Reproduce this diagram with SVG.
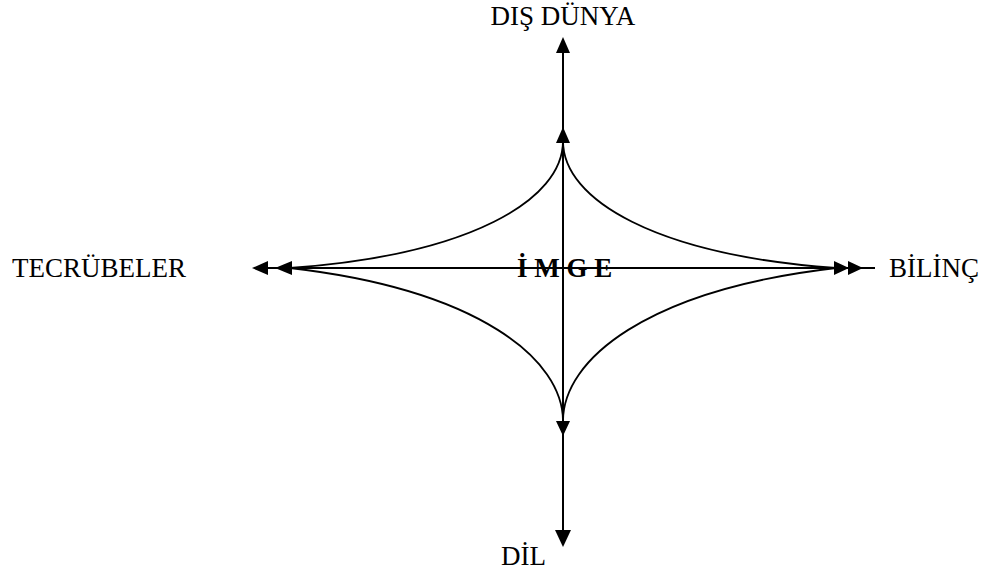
<svg xmlns="http://www.w3.org/2000/svg" width="987" height="571" viewBox="0 0 987 571">
<style>
.ln{fill:none;stroke:#000;stroke-width:2}
.cv{fill:none;stroke:#000;stroke-width:1.8}
.ah{fill:#000;stroke:none}
.lbl{font-family:"Liberation Serif","Times New Roman",serif;font-size:27px;fill:#000}
.b{font-weight:bold}
</style>
<rect width="987" height="571" fill="#fff"/>
<g id="connectors">
<line class="ln" x1="563" y1="40" x2="563" y2="545"/>
<line class="ln" x1="255" y1="268" x2="875" y2="268"/>
<path class="cv" d="M563,141 C563,200 470,255 290,268"/>
<path class="cv" d="M563,141 C563,200 656,255 836,268"/>
<path class="cv" d="M563,421 C563,360 480,290 290,268"/>
<path class="cv" d="M563,421 C563,360 646,290 836,268"/>
<polygon class="ah" points="563,37 556,53 570,53"/>
<polygon class="ah" points="563,127 556,143 570,143"/>
<polygon class="ah" points="563,436 556,421 570,421"/>
<polygon class="ah" points="563,547 555,530 571,530"/>
<polygon class="ah" points="252,268 268,261 268,275"/>
<polygon class="ah" points="275,268 292,261 292,275"/>
<polygon class="ah" points="849,268 834,261 834,275"/>
<polygon class="ah" points="863,268 848,261 848,275"/>
</g>
<g id="dis-dunya"><text class="lbl" x="563" y="25" text-anchor="middle">DIŞ DÜNYA</text></g>
<g id="tecrubeler"><text class="lbl" x="12" y="277">TECRÜBELER</text></g>
<g id="bilinc"><text class="lbl" x="889" y="277">BİLİNÇ</text></g>
<g id="dil"><text class="lbl" x="501" y="565">DİL</text></g>
<g id="imge"><text class="lbl b" x="517" y="277" xml:space="preserve">İ M G E</text></g>
</svg>
